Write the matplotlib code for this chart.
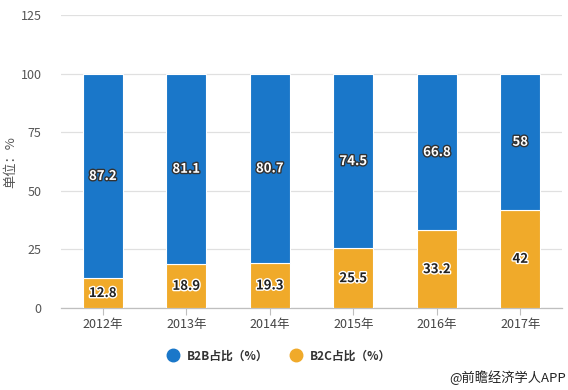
import matplotlib
matplotlib.use("Agg")
import matplotlib.pyplot as plt
from matplotlib.lines import Line2D
import matplotlib.patheffects as pe

plt.rcParams['font.family'] = ['Noto Sans CJK SC', 'DejaVu Sans']

years = ["2012年", "2013年", "2014年", "2015年", "2016年", "2017年"]
b2c = [12.8, 18.9, 19.3, 25.5, 33.2, 42]
b2b = [87.2, 81.1, 80.7, 74.5, 66.8, 58]
b2b_label = "B2B占比（%）"
b2c_label = "B2C占比（%）"
yticks = [0, 25, 50, 75, 100, 125]

blue = "#1A77C9"
orange = "#F0AA2A"

fig = plt.figure(figsize=(5.68, 3.9), dpi=100)
ax = fig.add_axes([61/568, 82/390, 501/568, 292.7/390])

x = list(range(len(years)))
w = 0.48
ax.bar(x, b2c, width=w, color=orange, edgecolor="white", linewidth=0.8, zorder=3)
ax.bar(x, b2b, width=w, bottom=b2c, color=blue, edgecolor="white", linewidth=0.8, zorder=3)

for i in x:
    ax.text(i, b2c[i] / 2, f"{b2c[i]:g}", ha="center", va="center", fontsize=9.5,
            fontweight="bold", color="#222222", zorder=4,
            path_effects=[pe.withStroke(linewidth=2, foreground="white")])
    ax.text(i, b2c[i] + b2b[i] / 2, f"{b2b[i]:g}", ha="center", va="center", fontsize=9.5,
            fontweight="bold", color="white", zorder=4,
            path_effects=[pe.withStroke(linewidth=2, foreground="#333333")])

ax.set_xlim(-0.5, len(years) - 0.5)
ax.set_ylim(0, 125)
ax.set_yticks(yticks)
ax.set_xticks(x)
ax.set_xticklabels(years)
ax.grid(axis="y", color="#e0e0e0", linewidth=0.9, zorder=0)
ax.set_axisbelow(True)
for s in ["top", "right", "left"]:
    ax.spines[s].set_visible(False)
ax.spines["bottom"].set_color("#bfbfbf")
ax.spines["bottom"].set_linewidth(0.9)
ax.tick_params(axis="y", length=0, labelsize=9, colors="#555555", pad=14)
ax.tick_params(axis="x", length=5, width=0.8, color="#bfbfbf", labelsize=9, labelcolor="#444444", pad=2)

fig.text(11/568, 1 - 162/390, "单位：%", rotation=90, ha="center", va="center",
         fontsize=9.5, color="#555555")

handles = [
    Line2D([], [], marker="o", linestyle="", markersize=9, color=blue, label=b2b_label),
    Line2D([], [], marker="o", linestyle="", markersize=9, color=orange, label=b2c_label),
]
leg = fig.legend(handles=handles, loc="center", bbox_to_anchor=(279/568, 1 - 356/390), ncol=2,
                 frameon=False, handletextpad=0.7, columnspacing=1.8,
                 handlelength=1.0, prop={'weight': 'bold', 'size': 8.5})
for t in leg.get_texts():
    t.set_color("#333333")

fig.text(566/568, 1 - 378/390, "@前瞻经济学人APP", ha="right", va="center", fontsize=9.5, color="#222222")

fig.savefig("out.png", dpi=100)
